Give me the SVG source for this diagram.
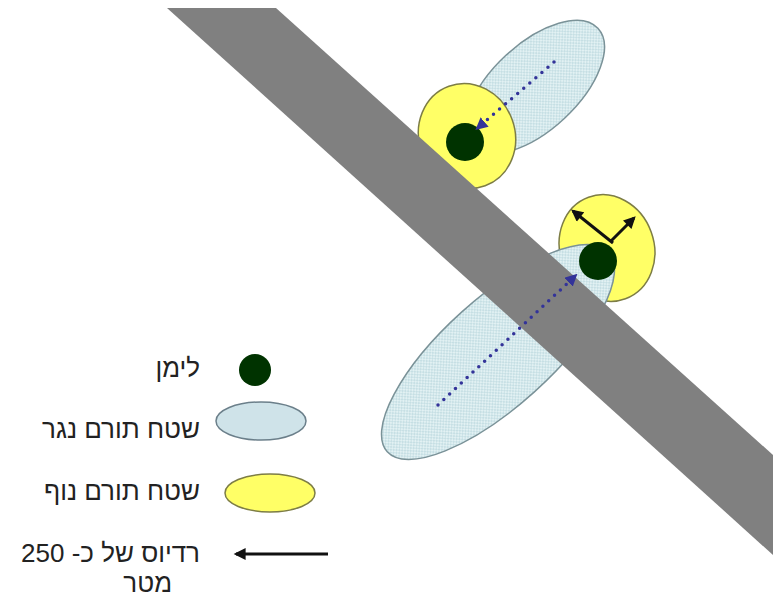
<svg xmlns="http://www.w3.org/2000/svg" width="773" height="597" viewBox="0 0 773 597">
<style>
  .txt { font-family: "Liberation Sans", Arial, "DejaVu Sans", sans-serif; font-size: 26px; fill: #222; }
  .runoff { fill: url(#dots); stroke: #7a9298; stroke-width: 1.5; }
  .view { fill: #ffff66; stroke: #7d7d45; stroke-width: 1.5; }
  .lake { fill: #003300; }
  .dotted { stroke: #333399; stroke-width: 3.5; stroke-linecap: round; stroke-dasharray: 0 8; fill: none; marker-end: url(#blueHead); }
  .radius { stroke: #111; stroke-width: 3; fill: none; marker-end: url(#blackHead); }
</style>
<defs>
  <pattern id="dots" width="4" height="4" patternUnits="userSpaceOnUse">
    <rect width="4" height="4" fill="#e2f1f3"/>
    <rect width="2" height="2" fill="#c6dfe4"/>
    <rect x="2" y="2" width="2" height="2" fill="#c6dfe4"/>
  </pattern>
  <marker id="blueHead" viewBox="0 0 10 10" refX="5" refY="5" markerWidth="3.5" markerHeight="3.5" orient="auto" markerUnits="strokeWidth">
    <path d="M0,0 L10,5 L0,10 z" fill="#333399"/>
  </marker>
  <marker id="blackHead" viewBox="0 0 10 10" refX="8" refY="5" markerWidth="4.5" markerHeight="4" orient="auto" markerUnits="strokeWidth">
    <path d="M0,0 L10,5 L0,10 z" fill="#111"/>
  </marker>
</defs>
<rect width="773" height="597" fill="#ffffff"/>

<g id="node-top">
  <ellipse class="runoff" cx="535" cy="87" rx="86" ry="43" transform="rotate(-43 535 87)"/>
  <ellipse class="view" cx="467" cy="136" rx="48" ry="53" transform="rotate(-20 467 136)"/>
  <circle class="lake" cx="465" cy="142" r="19"/>
</g>

<g id="node-bottom">
  <ellipse class="view" cx="607" cy="248" rx="47" ry="54" transform="rotate(-20 607 248)"/>
  <ellipse class="runoff" cx="498" cy="352" rx="149" ry="54" transform="rotate(-42 498 352)"/>
</g>

<g id="road">
  <polygon points="167,8 276,8 773,455 773,555" fill="#808080"/>
</g>

<g id="node-bottom-lake">
  <circle class="lake" cx="598" cy="261" r="19"/>
</g>

<g id="connectors">
  <line class="dotted" x1="554" y1="62" x2="480" y2="126"/>
  <line class="dotted" x1="438" y1="405" x2="573" y2="278"/>
  <line class="radius" x1="613" y1="243" x2="573" y2="211"/>
  <line class="radius" x1="611" y1="241" x2="634" y2="218"/>
</g>

<g id="legend-lake">
  <circle class="lake" cx="255" cy="370" r="16"/>
  <text class="txt" x="200" y="377" text-anchor="end">לימן</text>
</g>
<g id="legend-runoff">
  <ellipse cx="261" cy="421" rx="45" ry="19" fill="#cfe3e9" stroke="#6b7f8a" stroke-width="1.5"/>
  <text class="txt" x="200" y="438" text-anchor="end">שטח תורם נגר</text>
</g>
<g id="legend-view">
  <ellipse class="view" cx="270" cy="493" rx="45" ry="19"/>
  <text class="txt" x="200" y="500" text-anchor="end">שטח תורם נוף</text>
</g>
<g id="legend-radius">
  <line class="radius" x1="328" y1="554" x2="236" y2="554"/>
  <text class="txt" x="200" y="562" text-anchor="end">רדיוס של כ- 250</text>
  <text class="txt" x="172" y="592" text-anchor="end">מטר</text>
</g>
</svg>
